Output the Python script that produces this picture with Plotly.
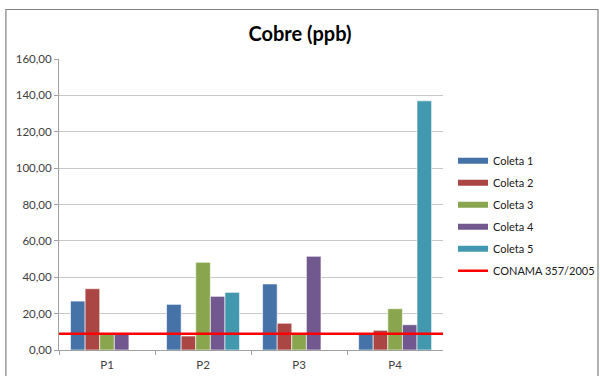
import plotly.graph_objects as go

categories = ["P1", "P2", "P3", "P4"]
series_names = ["Coleta 1", "Coleta 2", "Coleta 3", "Coleta 4", "Coleta 5"]
coleta1 = [26.9, 25.1, 36.3, 9.3]
coleta2 = [33.7, 7.7, 14.7, 10.8]
coleta3 = [8.5, 48.2, 8.5, 22.7]
coleta4 = [9.3, 29.5, 51.5, 13.9]
coleta5 = [None, 31.7, None, 137.0]
conama_name = "CONAMA 357/2005"
conama_limit = 9.0
y_ticks = [0, 20, 40, 60, 80, 100, 120, 140, 160]

colors = ["#4572A7", "#AA4643", "#89A54E", "#71588F", "#4198AF"]
series = [coleta1, coleta2, coleta3, coleta4, coleta5]

fig = go.Figure()
for name, vals, col in zip(series_names, series, colors):
    fig.add_trace(go.Bar(
        x=categories, y=vals, name=name, showlegend=False, legendgroup=name,
        marker=dict(color=col, line=dict(color="rgba(255,255,255,0.6)", width=1)),
    ))
# legend proxies (wide rectangles like the original)
for name, col in zip(series_names, colors):
    fig.add_trace(go.Scatter(
        x=[None], y=[None], mode="lines", name=name, legendgroup=name,
        line=dict(color=col, width=6),
    ))

fig.add_trace(go.Scatter(
    x=[0, 1], y=[conama_limit, conama_limit], xaxis="x2",
    mode="lines", name=conama_name, legendgroup=conama_name,
    line=dict(color="#FF0000", width=2.5),
))

# layout geometry (pixels)
L, R, T, B = 59, 0, 59, 26
PW = 600 - L - R
PLOT_RIGHT = 446

font = "Lato, 'Open Sans', sans-serif"
fig.update_layout(
    width=600, height=376,
    margin=dict(l=L, r=R, t=T, b=B),
    paper_bgcolor="white", plot_bgcolor="white",
    separators=",.",
    barmode="group", bargap=0.24, bargroupgap=0,
    title=dict(text="<b>Cobre (ppb)</b>", x=300 / 600, xref="container", xanchor="center",
               y=0.91, yanchor="middle",
               font=dict(family=font, size=20, color="black")),
    font=dict(family=font, size=11, color="#404040"),
    xaxis=dict(type="category", domain=[0, (PLOT_RIGHT - L) / PW],
               showline=True, linecolor="#A0A0A0", linewidth=1,
               ticks="outside", tickson="boundaries", ticklen=4, tickcolor="#A0A0A0",
               ticklabelstandoff=4,
               tickfont=dict(size=11.5, color="#404040"), showgrid=False),
    xaxis2=dict(overlaying="x", range=[0, 1], visible=False),
    yaxis=dict(range=[0, 160], tickvals=y_ticks, tickformat=".2f",
               showline=True, linecolor="#A0A0A0", linewidth=1,
               ticks="outside", ticklen=4, tickcolor="#A0A0A0",
               gridcolor="#C8C8C8", gridwidth=1, zeroline=False,
               tickfont=dict(size=11.5, color="#404040")),
    legend=dict(x=(456 - L) / PW, y=0.70, xanchor="left", yanchor="top",
                font=dict(size=11, color="#202020"), tracegroupgap=3,
                itemwidth=30, bgcolor="rgba(0,0,0,0)"),
    shapes=[dict(type="rect", xref="paper", yref="paper",
                 x0=(5.5 - L) / PW, x1=(602 - L) / PW,
                 y0=(350 - 380) / 291, y1=(350 - 9.5) / 291,
                 line=dict(color="#808080", width=1.2), fillcolor="rgba(0,0,0,0)", layer="below")],
)

fig.write_html("out.html")
